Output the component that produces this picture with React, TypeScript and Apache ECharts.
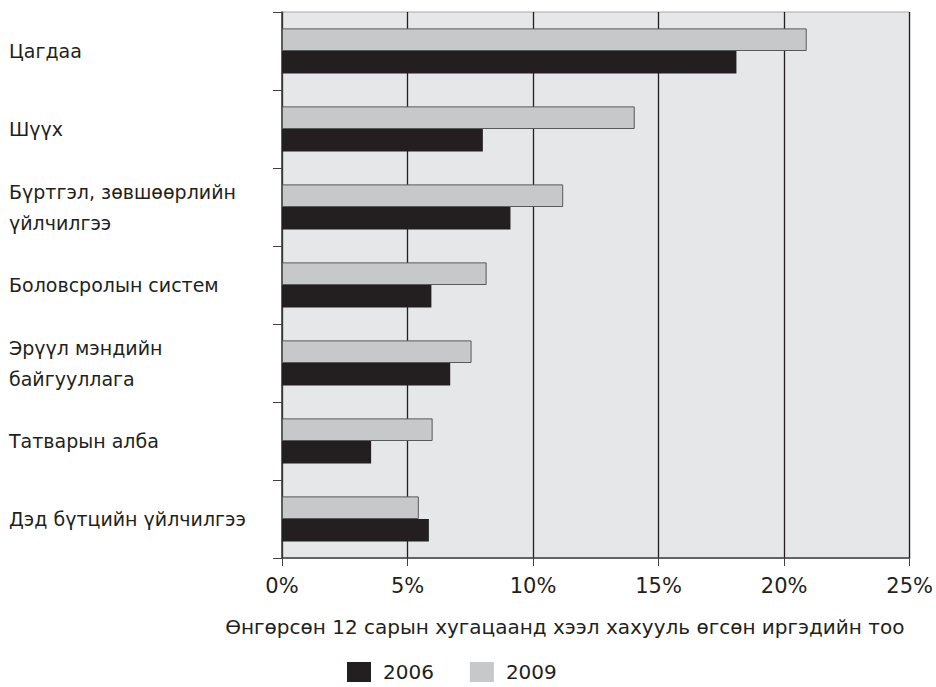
import React, { useEffect, useRef } from "react";
import * as echarts from "echarts";

const categories = [
  "Цагдаа",
  "Шүүх",
  "Бүртгэл, зөвшөөрлийн\nүйлчилгээ",
  "Боловсролын систем",
  "Эрүүл мэндийн\nбайгууллага",
  "Татварын алба",
  "Дэд бүтцийн үйлчилгээ",
];
const values2006 = [18.1, 8.0, 9.1, 5.95, 6.7, 3.55, 5.85];
const values2009 = [20.9, 14.05, 11.2, 8.15, 7.55, 6.0, 5.45];
const xTicks = [0, 5, 10, 15, 20, 25];
const axisName = "Өнгөрсөн 12 сарын хугацаанд хээл хахууль өгсөн иргэдийн тоо";

const FONT = "DejaVu Sans";
const TEXT = "#231f20";

export default function App() {
  const ref = useRef<HTMLDivElement>(null);
  useEffect(() => {
    document.body.style.margin = "0";
    if (!ref.current) return;
    const chart = echarts.init(ref.current, null, { renderer: "svg" });
    chart.setOption({
      animation: false,
      textStyle: { fontFamily: FONT },
      grid: {
        left: 282,
        right: 24,
        top: 12,
        bottom: 129,
        show: true,
        backgroundColor: "#e6e7e8",
        borderColor: "#a7a9ac",
        borderWidth: 1,
      },
      legend: {
        data: ["2006", "2009"],
        left: 347,
        top: 662,
        padding: 0,
        itemWidth: 24,
        itemHeight: 20,
        itemGap: 36,
        icon: "rect",
        itemStyle: { borderWidth: 0 },
        textStyle: { fontFamily: FONT, fontSize: 20, color: TEXT, padding: [0, 0, 0, 7] },
      },
      xAxis: {
        type: "value",
        min: xTicks[0],
        max: xTicks[xTicks.length - 1],
        interval: 5,
        axisLine: { show: true, lineStyle: { color: "#414042", width: 1.5 } },
        axisTick: { show: true, length: 8, lineStyle: { color: "#414042", width: 1 } },
        splitLine: { show: true, lineStyle: { color: "#231f20", width: 1.3 } },
        axisLabel: {
          formatter: "{value}%",
          fontFamily: FONT,
          fontSize: 21,
          color: TEXT,
          margin: 17,
        },
        name: axisName,
        nameLocation: "middle",
        nameGap: 59,
        nameTextStyle: { fontFamily: FONT, fontSize: 20, color: TEXT, padding: [0, 62, 0, 0] },
      },
      yAxis: {
        type: "category",
        data: categories,
        inverse: true,
        axisLine: { show: true, lineStyle: { color: "#414042", width: 1.5 } },
        axisTick: { show: true, length: 9, lineStyle: { color: "#414042", width: 1 } },
        splitLine: { show: false },
        axisLabel: {
          align: "left",
          margin: 273,
          fontFamily: FONT,
          fontSize: 19,
          color: TEXT,
          lineHeight: 31,
        },
      },
      series: [
        {
          name: "2009",
          type: "bar",
          data: values2009,
          barGap: "0%",
          barCategoryGap: "42%",
          itemStyle: { color: "#c7c8ca", borderColor: "#58595b", borderWidth: 1 },
        },
        {
          name: "2006",
          type: "bar",
          data: values2006,
          barGap: "0%",
          barCategoryGap: "42%",
          itemStyle: { color: "#231f20" },
        },
      ],
    });
    return () => chart.dispose();
  }, []);
  return <div ref={ref} style={{ width: 936, height: 687 }} />;
}
